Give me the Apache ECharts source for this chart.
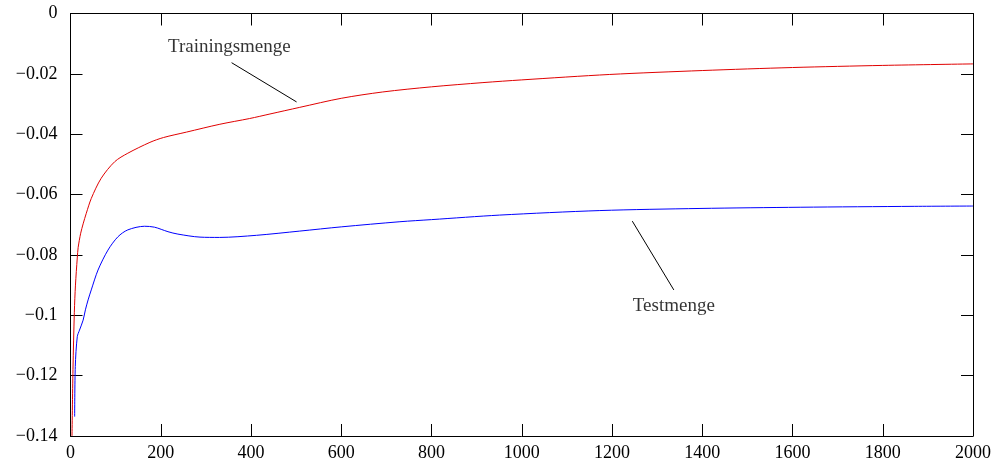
<!DOCTYPE html>
<html>
<head>
<meta charset="utf-8">
<script src="https://cdn.jsdelivr.net/npm/echarts@6/dist/echarts.min.js"></script>
<style>
  html, body { margin: 0; padding: 0; background: #fff; }
  #chart { width: 999px; height: 465px; }
</style>
</head>
<body>
<div id="chart"></div>
<script>
// Trainingsmenge (red) – [x, y]
const trainData = [
    [3.3, -0.140], [5.5, -0.118], [8.5, -0.099], [11, -0.090], [15, -0.081],
    [17, -0.0775], [22.6, -0.0728], [28, -0.0697], [35, -0.0662], [46, -0.0613],
    [68, -0.0546], [98, -0.0491], [127, -0.0463], [176, -0.0427], [206, -0.0411],
    [257, -0.0393], [331, -0.0367], [397, -0.0348], [442, -0.0333],
    [508, -0.0311], [600, -0.0281], [692, -0.0260], [800, -0.0243], [914, -0.0229],
    [1000, -0.0220], [1195, -0.0202], [1400, -0.0189], [1600, -0.0179], [1800, -0.0172],
    [2000, -0.0167]
];
// Testmenge (blue)
const testData = [
    [9.2, -0.1336], [10.6, -0.117], [15, -0.1071], [20, -0.1049], [28, -0.1016],
    [33, -0.0982], [39, -0.0949], [46, -0.0916], [61, -0.0850], [83, -0.0784],
    [105, -0.0740], [127, -0.0717], [164, -0.0705], [186, -0.0708], [216, -0.0723],
    [238, -0.0731], [287, -0.0741], [330, -0.0742], [412, -0.0735], [508, -0.0721],
    [600, -0.0707], [730, -0.0690], [800, -0.0683], [951, -0.0668], [1173, -0.0653],
    [1395, -0.0646], [1617, -0.0642], [1871, -0.0639], [2000, -0.0638]
];
// label arrows and label positions
const trainLeader = [[357, -0.0163], [501, -0.0293]];
const testLeader = [[1245, -0.0688], [1337, -0.0916]];
const seriesLabels = [
    { name: 'Trainingsmenge', value: [352, -0.0111] },
    { name: 'Testmenge', value: [1337, -0.0969] }
];

const xMin = 0, xMax = 2000, xStep = 200;
const yMin = -0.14, yMax = 0, yStep = 0.02;

const font = 'Liberation Serif';
const chart = echarts.init(document.getElementById('chart'));

function yFmt(v) {
    if (Math.abs(v) < 1e-9) return '0';
    const s = String(parseFloat(Math.abs(v).toFixed(2)));
    return (v < 0 ? '\u2212' : '') + s;
}

const tickIn = { show: true, inside: true, length: 12, lineStyle: { color: '#000', width: 1 } };
const lineStyle = { show: true, onZero: false, lineStyle: { color: '#000', width: 1 } };

let option = {
    animation: false,
    backgroundColor: '#fff',
    grid: { left: 70.5, right: 26, top: 13.5, bottom: 29 },
    xAxis: [
        {
            type: 'value', min: xMin, max: xMax, interval: xStep,
            axisLine: lineStyle, axisTick: tickIn, splitLine: { show: false },
            axisLabel: { color: '#000', fontFamily: font, fontSize: 18, margin: 8, formatter: v => String(v) }
        },
        {
            type: 'value', position: 'top', min: xMin, max: xMax, interval: xStep,
            axisLine: lineStyle, axisTick: tickIn, splitLine: { show: false },
            axisLabel: { show: false }
        }
    ],
    yAxis: [
        {
            type: 'value', min: yMin, max: yMax, interval: yStep,
            axisLine: lineStyle, axisTick: tickIn, splitLine: { show: false },
            axisLabel: { color: '#000', fontFamily: font, fontSize: 18, margin: 13, formatter: yFmt }
        },
        {
            type: 'value', position: 'right', min: yMin, max: yMax, interval: yStep,
            axisLine: lineStyle, axisTick: tickIn, splitLine: { show: false },
            axisLabel: { show: false }
        }
    ],
    series: [
        {
            name: 'Trainingsmenge', type: 'line', data: trainData,
            smooth: 0.3, showSymbol: false,
            lineStyle: { color: '#e00000', width: 1 }
        },
        {
            name: 'Testmenge', type: 'line', data: testData,
            smooth: 0.3, showSymbol: false,
            lineStyle: { color: '#0000ff', width: 1 }
        },
        {
            type: 'line', data: trainLeader, showSymbol: false,
            lineStyle: { color: '#000', width: 1 }
        },
        {
            type: 'line', data: testLeader, showSymbol: false,
            lineStyle: { color: '#000', width: 1 }
        },
        {
            type: 'scatter', data: seriesLabels, symbolSize: 0,
            label: {
                show: true, position: 'inside', formatter: '{b}',
                color: '#000', fontFamily: font, fontSize: 19
            }
        }
    ]
};
chart.setOption(option);
</script>
</body>
</html>
